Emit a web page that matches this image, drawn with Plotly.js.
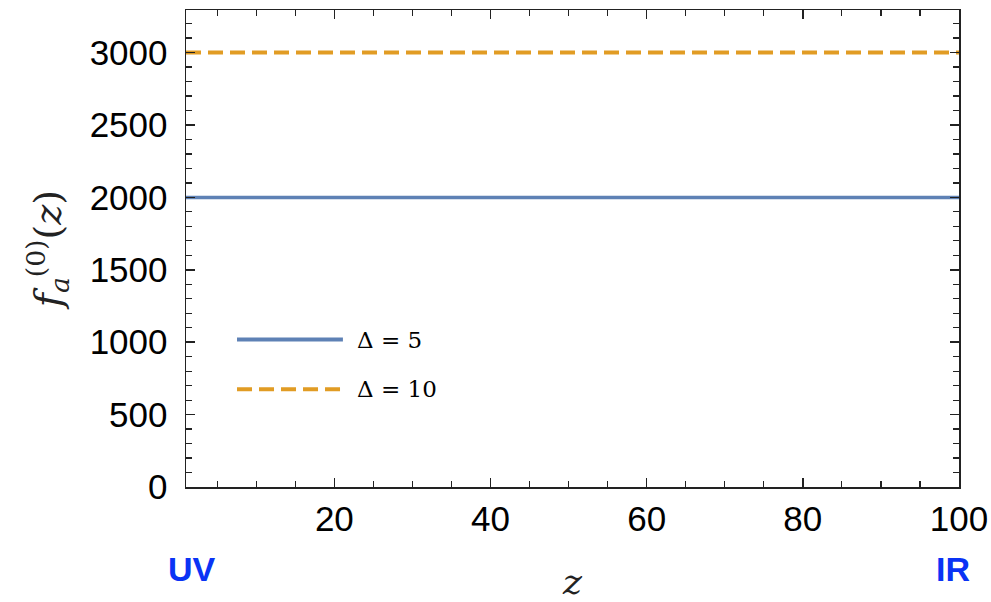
<!DOCTYPE html>
<html>
<head>
<meta charset="utf-8">
<script src="https://cdn.plot.ly/plotly-3.0.1.min.js"></script>
<style>html,body{margin:0;padding:0;background:#fff;}#chart{width:991px;height:602px;}</style>
</head>
<body>
<div id="chart"></div>
<script>
// Data
const z = [1, 20, 40, 60, 80, 100];
const fDelta5 = [2000, 2000, 2000, 2000, 2000, 2000];
const fDelta10 = [3000, 3000, 3000, 3000, 3000, 3000];
const seriesNames = ["Δ = 5", "Δ = 10"];
const xTickVals = [20, 40, 60, 80, 100];
const yTickVals = [0, 500, 1000, 1500, 2000, 2500, 3000];

const blue = "#5E81B5";
const orange = "#E19C24";

const traces = [
  {x: z, y: fDelta5, mode: "lines", name: seriesNames[0], line: {color: blue, width: 3.5}, showlegend: false},
  {x: z, y: fDelta10, mode: "lines", name: seriesNames[1], line: {color: orange, width: 4, dash: "15px,7px"}, showlegend: false}
];

const tickFont = {family: "Liberation Sans, Arial, sans-serif", size: 35, color: "#000"};

// legend drawn as paper-positioned samples
const legY = [0.309, 0.205];
const shapes = [
  {type: "line", xref: "paper", yref: "paper", x0: 0.066, x1: 0.203, y0: legY[0], y1: legY[0], line: {color: blue, width: 4}},
  {type: "line", xref: "paper", yref: "paper", x0: 0.066, x1: 0.203, y0: legY[1], y1: legY[1], line: {color: orange, width: 4, dash: "15px,7px"}}
];
const legFont = {family: "DejaVu Serif, serif", size: 23, color: "#000"};
const annotations = [
  {text: seriesNames[0], xref: "paper", yref: "paper", x: 0.218, y: legY[0], xanchor: "left", yanchor: "middle", showarrow: false, font: legFont},
  {text: seriesNames[1], xref: "paper", yref: "paper", x: 0.218, y: legY[1], xanchor: "left", yanchor: "middle", showarrow: false, font: legFont},
  {text: "<b>UV</b>", xref: "paper", yref: "paper", x: 0.008, y: -0.172, xanchor: "center", yanchor: "middle", showarrow: false, font: {family: "Liberation Sans, Arial, sans-serif", size: 34, color: "#0A33F5"}},
  {text: "<b>IR</b>", xref: "paper", yref: "paper", x: 0.992, y: -0.172, xanchor: "center", yanchor: "middle", showarrow: false, font: {family: "Liberation Sans, Arial, sans-serif", size: 34, color: "#0A33F5"}}
];

const layout = {
  width: 991, height: 602,
  margin: {l: 186, r: 32, t: 10, b: 115, pad: 0},
  paper_bgcolor: "#fff", plot_bgcolor: "#fff",
  showlegend: false,
  xaxis: {
    range: [1, 100], tickvals: xTickVals, ticktext: xTickVals.map(String),
    showgrid: false, zeroline: false, showline: true, linecolor: "#222", linewidth: 1.5, mirror: "ticks",
    ticks: "inside", ticklen: 9, tickwidth: 1.5, tickcolor: "#222",
    minor: {dtick: 5, tick0: 0, ticks: "inside", ticklen: 6, tickwidth: 1.2, tickcolor: "#222", showgrid: false},
    tickfont: tickFont, ticklabelstandoff: 0,
    title: {text: "<i>z</i>", font: {family: "DejaVu Serif, serif", size: 36, color: "#222"}, standoff: 40}
  },
  yaxis: {
    range: [0, 3294], tickvals: yTickVals, ticktext: yTickVals.map(String),
    showgrid: false, zeroline: false, showline: true, linecolor: "#222", linewidth: 1.5, mirror: "ticks",
    ticks: "inside", ticklen: 9, tickwidth: 1.5, tickcolor: "#222",
    minor: {dtick: 100, tick0: 0, ticks: "inside", ticklen: 6, tickwidth: 1.2, tickcolor: "#222", showgrid: false},
    tickfont: tickFont, ticklabelstandoff: 10,
    title: {text: "<i>f</i><sub><i>a</i></sub><sup>(0)</sup>(<i>z</i>)", font: {family: "DejaVu Serif, serif", size: 38, color: "#222"}, standoff: 16}
  },
  shapes: shapes,
  annotations: annotations
};

Plotly.newPlot("chart", traces, layout, {staticPlot: true, displayModeBar: false});
</script>
</body>
</html>
